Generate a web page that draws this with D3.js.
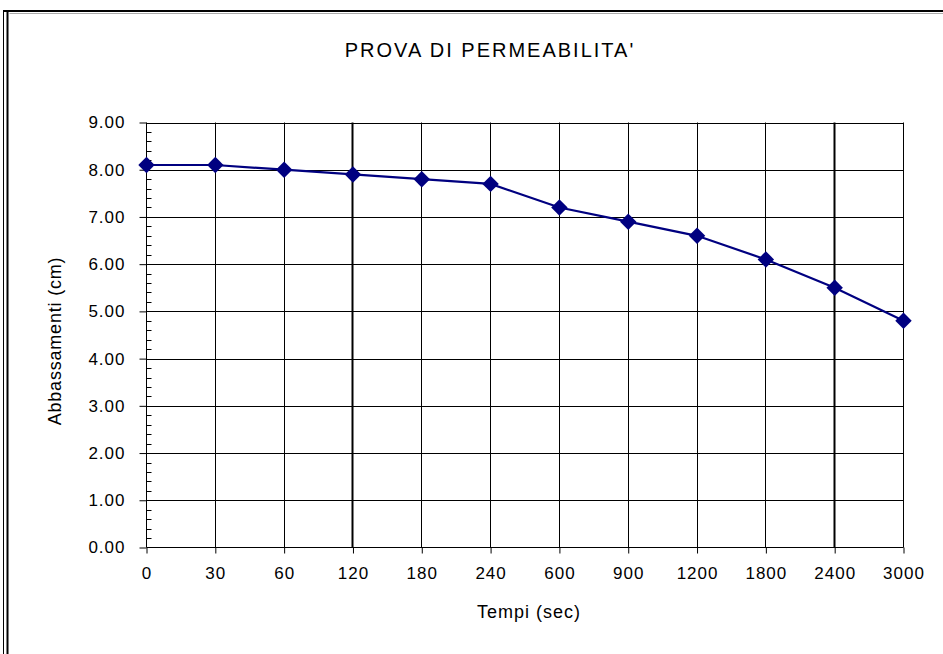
<!DOCTYPE html>
<html>
<head>
<meta charset="utf-8">
<script src="https://cdn.jsdelivr.net/npm/d3@7"></script>
<style>
  html, body { margin: 0; padding: 0; background: #fff; }
  svg { display: block; font-family: "Liberation Sans", Arial, sans-serif; }
</style>
</head>
<body>
<svg id="chart" width="943" height="654"></svg>
<script>
// Falling-head permeability test: drawdown versus elapsed time
const tempi = ["0", "30", "60", "120", "180", "240", "600", "900", "1200", "1800", "2400", "3000"];
const abbassamenti = [8.1, 8.1, 8.0, 7.9, 7.8, 7.7, 7.2, 6.9, 6.6, 6.1, 5.5, 4.8];
const yTicks = [0, 1, 2, 3, 4, 5, 6, 7, 8, 9];
const titleText = "PROVA DI PERMEABILITA'";
const yTitle = "Abbassamenti (cm)";
const xTitle = "Tempi (sec)";

const svg = d3.select("#chart");
const W = 943, H = 654;
const plot = { left: 146.5, right: 903.5, top: 122.5, bottom: 547.5 };

// Outer frame of the chart object
const frame = svg.append("g").attr("fill", "none").attr("stroke", "#000");
frame.append("line").attr("x1", 3).attr("x2", W).attr("y1", 11).attr("y2", 11).attr("stroke-width", 2);
frame.append("line").attr("x1", 7.5).attr("x2", 7.5).attr("y1", 10).attr("y2", H).attr("stroke-width", 2);
frame.append("line").attr("x1", 3.5).attr("x2", 3.5).attr("y1", 10).attr("y2", H).attr("stroke-width", 1);
frame.append("line").attr("x1", 9.5).attr("x2", W).attr("y1", 13.5).attr("y2", 13.5).attr("stroke", "#aaa").attr("stroke-width", 1);

const x = d3.scalePoint().domain(tempi).range([plot.left, plot.right]);
const y = d3.scaleLinear().domain([0, 9]).range([plot.bottom, plot.top]);

// Horizontal gridlines
svg.append("g")
  .selectAll("line").data(yTicks.filter(d => d > 0)).join("line")
  .attr("x1", plot.left).attr("x2", plot.right)
  .attr("y1", d => Math.round(y(d)) + 0.5).attr("y2", d => Math.round(y(d)) + 0.5)
  .attr("stroke", "#000").attr("stroke-width", 1);

// Vertical gridlines at each category
svg.append("g")
  .selectAll("line").data(tempi.slice(1)).join("line")
  .attr("x1", d => Math.round(x(d) - 0.5) + 0.5).attr("x2", d => Math.round(x(d) - 0.5) + 0.5)
  .attr("y1", plot.top).attr("y2", plot.bottom)
  .attr("stroke", "#000")
  .attr("stroke-width", d => (d === "120" || d === "2400") ? 2 : 1);

// Y axis: major ticks outward, minor ticks inward
const yAxis = svg.append("g").attr("transform", `translate(${plot.left},0)`);
yAxis.call(d3.axisLeft(y).tickValues(yTicks).tickSize(7).tickPadding(14)
  .tickFormat(d3.format(".2f")));
yAxis.select(".domain").remove();
yAxis.append("line").attr("x1", 0).attr("x2", 0)
  .attr("y1", plot.top).attr("y2", plot.bottom).attr("stroke", "#000");
const minor = d3.range(0, 9.001, 0.2).filter(v => Math.abs(v - Math.round(v)) > 1e-6);
yAxis.selectAll(".minor").data(minor).join("line").attr("class", "minor")
  .attr("x1", 0).attr("x2", 5)
  .attr("y1", d => Math.round(y(d)) + 0.5).attr("y2", d => Math.round(y(d)) + 0.5)
  .attr("stroke", "#000");
yAxis.selectAll(".tick line").attr("stroke", "#000");
yAxis.selectAll(".tick text").attr("font-size", 17).attr("letter-spacing", 1)
  .attr("fill", "#000").attr("font-family", "Liberation Sans, Arial, sans-serif");

// X axis
const xAxis = svg.append("g").attr("transform", `translate(0,${plot.bottom})`);
xAxis.call(d3.axisBottom(x).tickSize(6).tickPadding(13));
xAxis.select(".domain").remove();
xAxis.append("line").attr("x1", plot.left).attr("x2", plot.right)
  .attr("y1", 0).attr("y2", 0).attr("stroke", "#000");
xAxis.selectAll(".tick line").attr("stroke", "#000");
xAxis.selectAll(".tick text").attr("font-size", 17).attr("letter-spacing", 1)
  .attr("fill", "#000").attr("font-family", "Liberation Sans, Arial, sans-serif");

// Series line and diamond markers
const pts = tempi.map((t, i) => ({ t, v: abbassamenti[i] }));
svg.append("path").datum(pts)
  .attr("fill", "none").attr("stroke", "#000080").attr("stroke-width", 2.2)
  .attr("d", d3.line().x(d => x(d.t)).y(d => y(d.v)));
svg.append("g").selectAll("path").data(pts).join("path")
  .attr("transform", d => `translate(${x(d.t)},${y(d.v)}) rotate(45)`)
  .attr("d", d3.symbol(d3.symbolSquare, 135)())
  .attr("fill", "#000080");

// Titles
svg.append("text").attr("x", 490).attr("y", 57).attr("text-anchor", "middle")
  .attr("font-size", 20).attr("letter-spacing", 2).text(titleText);
svg.append("text").attr("transform", "translate(61,341) rotate(-90)")
  .attr("text-anchor", "middle").attr("font-size", 18).attr("letter-spacing", 0.8).text(yTitle);
svg.append("text").attr("x", 529).attr("y", 618).attr("text-anchor", "middle")
  .attr("font-size", 18).attr("letter-spacing", 1).text(xTitle);
</script>
</body>
</html>
